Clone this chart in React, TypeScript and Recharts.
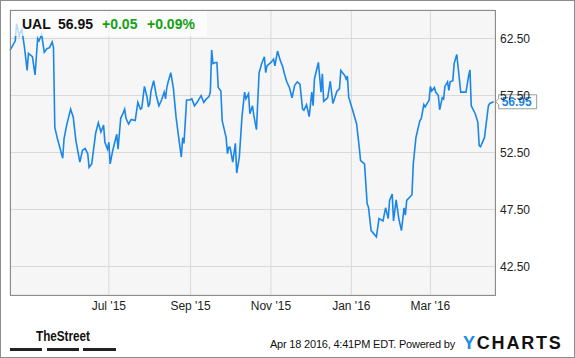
import { LineChart, Line, XAxis, YAxis, CartesianGrid, ReferenceDot } from 'recharts';

// UAL daily close, Apr 2015 - Apr 2016 (days counted from startDate)
const startDate = '2015-04-17';

const days = [
  0, 4, 5, 7, 9, 11, 13, 14, 17, 19,
  21, 22, 24, 26, 28, 30, 32, 33, 34, 36,
  40, 41, 43, 46, 48, 50, 53, 55, 57, 59,
  60, 62, 64, 65, 67, 69, 71, 72, 74, 75,
  76, 78, 81, 82, 84, 86, 87, 88, 90, 92,
  95, 97, 99, 100, 102, 104, 105, 106, 107, 109,
  111, 113, 115, 117, 118, 119, 120, 122, 124, 126,
  128, 130, 131, 132, 134, 136, 138, 140, 142, 145,
  147, 149, 151, 152, 153, 154, 156, 157, 158, 160,
  161, 164, 165, 166, 167, 169, 171, 172, 174, 176,
  178, 179, 181, 182, 184, 185, 187, 189, 191, 193,
  194, 195, 198, 200, 201, 203, 205, 207, 208, 210,
  212, 214, 216, 218, 220, 222, 223, 225, 227, 229,
  230, 231, 234, 236, 237, 238, 241, 243, 245, 248,
  250, 251, 254, 255, 256, 257, 260, 263, 265, 266,
  269, 271, 272, 274, 278, 280, 283, 285, 287, 288,
  290, 291, 293, 295, 297, 299, 300, 301, 305, 306,
  308, 311, 312, 314, 315, 318, 319, 320, 322, 323,
  325, 326, 328, 329, 330, 332, 333, 334, 336, 337,
  339, 340, 342, 346, 348, 349, 350, 353, 355, 356,
  357, 360, 363, 364, 367,
];

const prices = [
  61.45, 62.3, 63.8, 62.8, 63.3, 61.7, 59.7, 61.2, 60.9, 59.3,
  62.5, 62.3, 62.85, 61.3, 61.6, 61.7, 62.2, 61.7, 54.7, 53.7,
  52.0, 53.7, 54.9, 56.3, 55.6, 53.55, 51.65, 52.7, 52.85, 52.4,
  51.2, 51.5, 53.3, 54.2, 55.1, 54.3, 54.9, 53.4, 52.8, 53.4,
  51.5, 52.7, 54.1, 52.8, 55.5, 56.0, 56.3, 55.5, 55.0, 55.4,
  55.3, 56.9, 56.3, 56.4, 58.3, 57.35, 56.5, 56.8, 57.9, 58.8,
  57.5, 56.6, 57.1, 57.8, 57.2, 58.2, 58.7, 59.5, 58.1, 55.6,
  53.8, 52.1, 53.8, 53.3, 57.1, 57.1, 57.2, 56.6, 56.9, 57.5,
  56.9, 57.2, 57.4, 57.8, 61.5, 60.3, 60.4, 60.4, 58.2, 57.9,
  55.3, 53.8, 52.4, 52.95, 52.95, 51.65, 53.3, 50.7, 52.1, 55.6,
  57.8, 57.2, 57.65, 55.9, 56.6, 55.75, 54.5, 59.5, 60.3, 60.9,
  59.5, 60.1, 60.4, 60.7, 60.1, 61.4, 60.6, 60.0, 59.5, 58.7,
  58.2, 57.3, 58.4, 58.7, 58.5, 56.3, 56.2, 56.7, 55.65, 57.8,
  56.6, 58.95, 60.4, 57.8, 59.4, 57.0, 57.3, 58.75, 56.8, 57.85,
  58.1, 59.7, 59.25, 58.95, 59.2, 57.35, 56.2, 55.0, 52.95, 51.8,
  51.5, 48.0, 47.7, 45.65, 45.1, 46.7, 46.5, 47.65, 46.7, 48.3,
  48.85, 46.5, 48.35, 46.7, 45.65, 47.65, 47.0, 48.3, 48.8, 51.5,
  53.8, 55.3, 55.45, 56.7, 56.5, 57.1, 58.3, 57.9, 58.2, 57.8,
  57.5, 56.25, 57.3, 57.2, 58.3, 58.7, 57.95, 58.7, 58.8, 60.3,
  61.1, 60.0, 57.8, 57.8, 59.25, 59.75, 56.6, 55.9, 55.15, 53.1,
  53.0, 53.8, 56.6, 56.8, 56.95,
];

const tickDates = ['2015-07-01', '2015-09-01', '2015-11-01', '2016-01-01', '2016-03-01'];
const tickLabels = ["Jul '15", "Sep '15", "Nov '15", "Jan '16", "Mar '16"];
const priceTicks = [42.5, 47.5, 52.5, 57.5, 62.5];

const symbol = 'UAL';
const lastPrice = '56.95';
const change = '+0.05';
const changePct = '+0.09%';
const stamp = 'Apr 18 2016, 4:41PM EDT.';

const dayOf = (d: string) => Math.round((Date.parse(d) - Date.parse(startDate)) / 86400000);
const xTicks = tickDates.map(dayOf);
const data = days.map((d, i) => ({ day: d, price: prices[i] }));

const BLUE = '#1a87e8';

function LastLabel({ cx, cy }: any) {
  const l = cx + 5;
  const r = cx + 43;
  return (
    <g>
      <path
        d={`M${cx + 2},${cy} L${l},${cy - 3} L${l},${cy - 7} L${r},${cy - 7} L${r},${cy + 7} L${l},${cy + 7} L${l},${cy + 3} Z`}
        fill="#fff"
        stroke="#9a9a9a"
      />
      <text x={cx + 8} y={cy + 4.5} fontSize={12} fontWeight="bold" fill={BLUE}>
        {lastPrice}
      </text>
    </g>
  );
}

export default function App() {
  return (
    <div style={{ position: 'absolute', left: 0, top: 0, width: 575, height: 358, background: '#fff', fontFamily: '"Liberation Sans", Arial, sans-serif' }}>
      <LineChart width={575} height={358} data={data} margin={{ top: 10, right: 10, bottom: 38, left: 10 }}>
        <CartesianGrid fill="#f6f6f6" fillOpacity={1} stroke="#d9d9d9" />
        <XAxis
          dataKey="day"
          type="number"
          domain={[0, 368]}
          ticks={xTicks}
          interval={0}
          tickFormatter={(v: number) => tickLabels[xTicks.indexOf(v)]}
          axisLine={false}
          tickLine={false}
          tickSize={4}
          tickMargin={2}
          height={25}
          tick={{ fontSize: 12, fill: '#222' }}
        />
        <YAxis
          orientation="right"
          domain={[40, 65]}
          ticks={priceTicks}
          interval={0}
          tickFormatter={(v: number) => v.toFixed(2)}
          axisLine={false}
          tickLine={false}
          tickSize={3}
          tickMargin={2}
          width={70}
          tick={{ fontSize: 12, fill: '#222' }}
        />
        <Line type="linear" dataKey="price" stroke={BLUE} strokeWidth={1.6} dot={false} isAnimationActive={false} />
        <ReferenceDot x={days[days.length - 1]} y={prices[prices.length - 1]} shape={LastLabel} ifOverflow="visible" />
      </LineChart>
      <svg width={575} height={358} style={{ position: 'absolute', left: 0, top: 0, pointerEvents: 'none' }}>
        <rect x={10} y={10} width={197} height={26} fill="#fff" fillOpacity={0.7} />
        <text y={29} fontSize={14} fontWeight="bold">
          <tspan x={22} fill="#111">{symbol}</tspan>
          <tspan x={58} fill="#111">{lastPrice}</tspan>
          <tspan x={102} fill="#13a113">{change}</tspan>
          <tspan x={147} fill="#13a113">{changePct}</tspan>
        </text>
        <rect x={10.5} y={10.5} width={485} height={285} fill="none" stroke="#8c8c8c" />
        <rect x={0.5} y={0.5} width={574} height={357} fill="none" stroke="#8c8c8c" />
        <text x={36} y={341} fontSize={15} fontWeight="bold" fill="#111" textLength={54} lengthAdjust="spacingAndGlyphs">
          TheStreet
        </text>
        <rect x={10} y={348} width={32} height={3} fill="#222" />
        <rect x={47} y={348} width={32} height={3} fill="#222" />
        <rect x={83} y={348} width={33} height={3} fill="#222" />
        <text x={455} y={348} fontSize={11} fill="#111" textAnchor="end" letterSpacing={-0.2}>
          {stamp}  Powered by
        </text>
        <text x={463} y={349} fontSize={18} fontWeight={900} letterSpacing={1.8}>
          <tspan fill="#1a8fe3">Y</tspan>
          <tspan fill="#111">CHARTS</tspan>
        </text>
      </svg>
    </div>
  );
}
